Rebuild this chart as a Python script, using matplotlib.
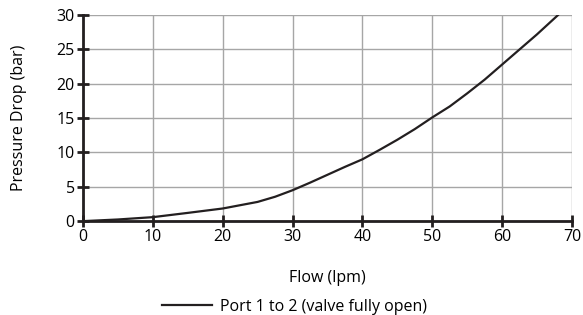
import matplotlib.pyplot as plt

# pressure drop curve
flow = [0, 5, 10, 15, 20, 25, 27.5, 30, 32.5, 35, 37.5, 40, 42.5, 45, 47.5,
        50, 52.5, 55, 57.5, 60, 62.5, 65, 68]
pressure = [0, 0.24, 0.58, 1.2, 1.84, 2.8, 3.55, 4.5, 5.6, 6.75, 7.9, 9.0, 10.4,
            11.85, 13.4, 15.1, 16.7, 18.6, 20.6, 22.8, 25.0, 27.2, 30]
series_label = "Port 1 to 2 (valve fully open)"

plt.rcParams['font.family'] = ['Open Sans', 'DejaVu Sans']
FS = 11.5

fig = plt.figure(figsize=(5.83, 3.15), dpi=100)
ax = fig.add_axes([0.1424, 0.298, 0.8386, 0.654])

ax.plot(flow, pressure, color='#231f20', lw=1.6, label=series_label)

ax.set_xlim(0, 70)
ax.set_ylim(0, 30)
ax.set_xticks(range(0, 71, 10))
ax.set_yticks(range(0, 31, 5))
ax.grid(True, color='#a6a6a6', lw=1)
ax.set_axisbelow(True)

for side in ['top', 'right']:
    ax.spines[side].set_visible(False)
for side in ['left', 'bottom']:
    ax.spines[side].set_linewidth(2)
    ax.spines[side].set_color('#231f20')
ax.tick_params(direction='inout', length=8, width=2, color='#231f20',
               labelsize=FS, pad=2)

ax.set_xlabel("Flow (lpm)", fontsize=FS, labelpad=18)
ax.set_ylabel("Pressure Drop (bar)", fontsize=FS, labelpad=21)

fig.legend(loc='lower center', bbox_to_anchor=(0.505, -0.045), frameon=False,
           fontsize=FS, handlelength=3.1, handletextpad=0.5)

fig.savefig('out.png', dpi=100)
